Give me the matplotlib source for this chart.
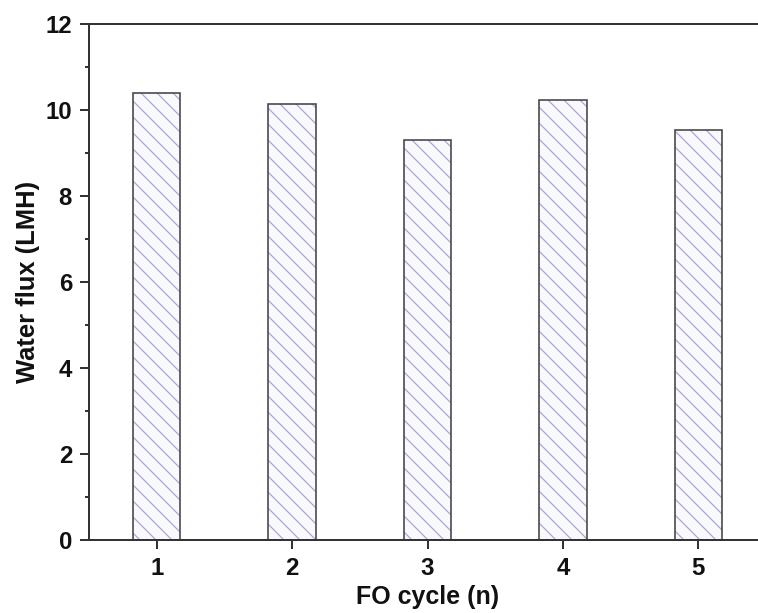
import matplotlib
matplotlib.use("Agg")
import matplotlib.pyplot as plt
from matplotlib.ticker import MultipleLocator

cycles = [1, 2, 3, 4, 5]
flux = [10.40, 10.14, 9.30, 10.23, 9.53]
xlabel = "FO cycle (n)"
ylabel = "Water flux (LMH)"

DPI = 96
PX = 72 / DPI  # points per pixel

plt.rcParams['font.family'] = ['Liberation Sans', 'DejaVu Sans']
plt.rcParams['hatch.linewidth'] = 1.2 * PX

fig = plt.figure(figsize=(758 / DPI, 613 / DPI), dpi=DPI)
ax = fig.add_axes([89 / 758, 1 - 540 / 613, (766 - 89) / 758, (540 - 24) / 613])

# hatched fill
ax.bar(cycles, flux, width=0.35, facecolor='#f9f9fd', edgecolor='#a4a4d6',
       linewidth=0, hatch='\\\\')
# outline
ax.bar(cycles, flux, width=0.35, fill=False, edgecolor='#444444', linewidth=1.6 * PX)

ax.set_xlim(0.5, 5.5)
ax.set_ylim(0, 12)
ax.set_xticks(cycles)
ax.yaxis.set_major_locator(MultipleLocator(2))
ax.yaxis.set_minor_locator(MultipleLocator(1))

for s in ['left', 'bottom', 'top', 'right']:
    ax.spines[s].set_linewidth(2 * PX)
    ax.spines[s].set_color('#333333')

ax.tick_params(axis='both', which='major', direction='out', length=9 * PX, width=2 * PX,
               color='#333333', labelsize=24 * PX, pad=8 * PX)
ax.tick_params(axis='y', which='minor', direction='out', length=4 * PX, width=2 * PX,
               color='#333333')
ax.tick_params(axis='x', which='both', top=False)
ax.tick_params(axis='y', which='both', right=False)
for lab in ax.get_xticklabels() + ax.get_yticklabels():
    lab.set_fontweight('bold')
    lab.set_color('#111111')

ax.set_xlabel(xlabel, fontsize=25 * PX, fontweight='bold', labelpad=5 * PX, color='#111111')
ax.set_ylabel(ylabel, fontsize=25.5 * PX, fontweight='bold', labelpad=5 * PX, color='#111111')

fig.savefig('out.png', dpi=DPI, facecolor='white')
